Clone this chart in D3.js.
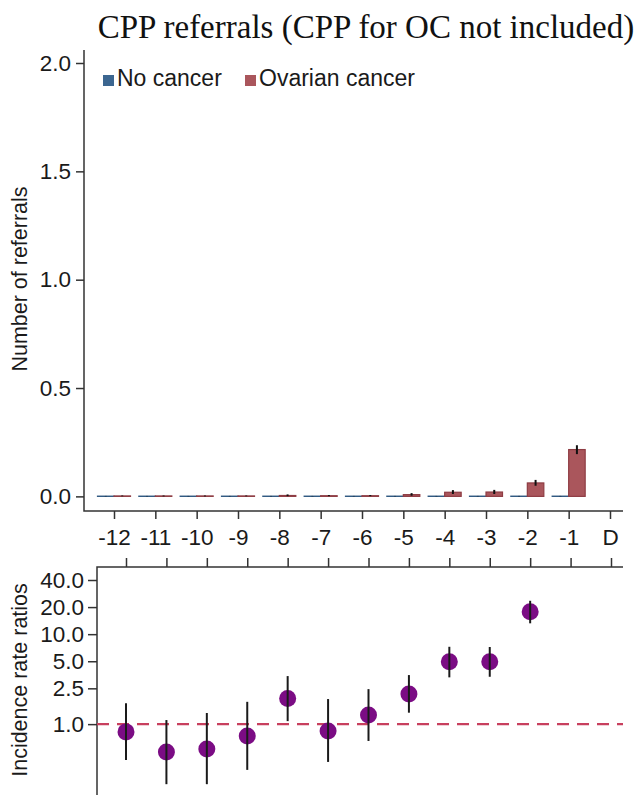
<!DOCTYPE html>
<html>
<head>
<meta charset="utf-8">
<script src="https://cdn.jsdelivr.net/npm/d3@7"></script>
<style>
	body { margin: 0; background: #fff; }
	svg { display: block; }
</style>
</head>
<body>
<div id="chart"></div>
<script>
/* CPP referrals chart: bars on top, IRR points below */

const periods = ["-12", "-11", "-10", "-9", "-8", "-7", "-6", "-5", "-4", "-3", "-2", "-1", "D"];
const groups = ["No cancer", "Ovarian cancer"];

// mean referrals per period (-12 .. -1)
const noCancer   = [0.001, 0.001, 0.001, 0.001, 0.001, 0.001, 0.001, 0.001, 0.001, 0.001, 0.001, 0.001];
const noCancerLo = [0.0005, 0.0005, 0.0005, 0.0005, 0.0005, 0.0005, 0.0005, 0.0005, 0.0005, 0.0005, 0.0005, 0.0005];
const noCancerHi = [0.002, 0.002, 0.002, 0.002, 0.002, 0.002, 0.002, 0.002, 0.002, 0.002, 0.002, 0.002];
const ovarian    = [0.002, 0.002, 0.002, 0.002, 0.004, 0.003, 0.003, 0.008, 0.019, 0.020, 0.062, 0.216];
const ovarianLo  = [0.0005, 0.0, 0.0, 0.0005, 0.001, 0.001, 0.001, 0.003, 0.011, 0.011, 0.049, 0.195];
const ovarianHi  = [0.004, 0.004, 0.004, 0.004, 0.009, 0.006, 0.006, 0.015, 0.029, 0.030, 0.076, 0.236];

// incidence rate ratios
const irr   = [0.82, 0.49, 0.53, 0.74, 1.93, 0.84, 1.26, 2.16, 4.93, 4.93, 17.7];
const irrLo = [0.40, 0.215, 0.215, 0.31, 1.08, 0.38, 0.65, 1.34, 3.31, 3.36, 13.2];
const irrHi = [1.71, 1.11, 1.33, 1.77, 3.42, 1.90, 2.45, 3.51, 7.24, 7.20, 23.5];

const topTicks = [0, 0.5, 1, 1.5, 2];
const irrTicks = [1, 2.5, 5, 10, 20, 40];

const colors = {"No cancer": "#3c6690", "Ovarian cancer": "#aa565c"};
const strokes = {"No cancer": "#2f5880", "Ovarian cancer": "#8e3c43"};
const font = "'Liberation Sans', Arial, sans-serif";
const axisColor = "#333";

const W = 640, H = 795;
const svg = d3.select("#chart").append("svg")
	.attr("width", W)
	.attr("height", H);

// title
svg.append("text")
	.attr("x", 366)
	.attr("y", 38)
	.attr("text-anchor", "middle")
	.attr("font-family", "'Liberation Serif', 'Times New Roman', serif")
	.attr("font-size", 33)
	.attr("fill", "#111")
	.text("CPP referrals (CPP for OC not included)");

/* ---------- top panel ---------- */
const box1 = {left: 84, right: 623, top: 50, bottom: 511};

const x = d3.scalePoint().domain(periods).range([114, 610]);
const xSub = d3.scaleBand().domain(groups).range([-16.5, 16.5]);
const y = d3.scaleLinear().domain([-0.0675, 2.06]).range([box1.bottom, box1.top]);

const barData = [];
ovarian.forEach((v, i) => {
	barData.push({p: periods[i], g: "No cancer", v: noCancer[i], lo: noCancerLo[i], hi: noCancerHi[i]});
	barData.push({p: periods[i], g: "Ovarian cancer", v: v, lo: ovarianLo[i], hi: ovarianHi[i]});
});

svg.append("g").selectAll("rect")
	.data(barData)
	.join("rect")
		.attr("x", d => x(d.p) + xSub(d.g))
		.attr("width", xSub.bandwidth())
		.attr("y", d => y(d.v))
		.attr("height", d => y(0) - y(d.v))
		.attr("fill", d => colors[d.g])
		.attr("stroke", d => strokes[d.g])
		.attr("stroke-width", 1.2);

svg.append("g").selectAll("line")
	.data(barData)
	.join("line")
		.attr("x1", d => x(d.p) + xSub(d.g) + xSub.bandwidth() / 2)
		.attr("x2", d => x(d.p) + xSub(d.g) + xSub.bandwidth() / 2)
		.attr("y1", d => y(d.lo))
		.attr("y2", d => y(d.hi))
		.attr("stroke", "#111")
		.attr("stroke-width", 2);

// axes
svg.append("g")
	.attr("transform", `translate(${box1.left},0)`)
	.call(d3.axisLeft(y).tickValues(topTicks).tickFormat(d3.format(".1f")).tickSize(8).tickPadding(5));
svg.append("g")
	.attr("transform", `translate(0,${box1.bottom})`)
	.call(d3.axisBottom(x).tickSize(8).tickPadding(10));

svg.append("path")
	.attr("d", `M${box1.left},${box1.top}V${box1.bottom}H${box1.right}`)
	.attr("fill", "none")
	.attr("stroke", axisColor)
	.attr("stroke-width", 1.5);

// legend
const legend = svg.append("g")
	.selectAll("g")
	.data(groups)
	.join("g")
		.attr("transform", (d, i) => `translate(${i === 0 ? 103 : 245},0)`);
legend.append("rect")
	.attr("x", 0).attr("y", 75)
	.attr("width", 11).attr("height", 11)
	.attr("fill", d => colors[d]);
legend.append("text")
	.attr("x", 14)
	.attr("y", 86)
	.attr("font-family", font)
	.attr("font-size", 23)
	.attr("fill", "#1a1a1a")
	.text(d => d);

// y title
svg.append("text")
	.attr("transform", "translate(27,279) rotate(-90)")
	.attr("text-anchor", "middle")
	.attr("font-family", font)
	.attr("font-size", 21.5)
	.attr("fill", "#1a1a1a")
	.text("Number of referrals");

/* ---------- bottom panel ---------- */
const box2 = {left: 97, right: 623, top: 567, bottom: 800};

const x2 = d3.scalePoint().domain(periods).range([126, 611]);
const y2 = d3.scaleLog().domain([0.163, 55.8]).range([795, box2.top]);

svg.append("g")
	.attr("transform", `translate(0,${box2.top})`)
	.call(d3.axisTop(x2).tickSize(9).tickFormat(""));
svg.append("g")
	.attr("transform", `translate(${box2.left},0)`)
	.call(d3.axisLeft(y2).tickValues(irrTicks).tickFormat(d3.format(".1f")).tickSize(9).tickPadding(4));

svg.append("path")
	.attr("d", `M${box2.left},${box2.bottom}V${box2.top}H${box2.right}`)
	.attr("fill", "none")
	.attr("stroke", axisColor)
	.attr("stroke-width", 1.5);

svg.append("line")
	.attr("x1", box2.left)
	.attr("x2", box2.right)
	.attr("y1", y2(1))
	.attr("y2", y2(1))
	.attr("stroke", "#c8405e")
	.attr("stroke-width", 2.2)
	.attr("stroke-dasharray", "12,8");

const irrData = irr.map((v, i) => ({p: periods[i], v: v, lo: irrLo[i], hi: irrHi[i]}));

svg.append("g").selectAll("circle")
	.data(irrData)
	.join("circle")
		.attr("cx", d => x2(d.p))
		.attr("cy", d => y2(d.v))
		.attr("r", 8.5)
		.attr("fill", "#7b0c84");

svg.append("g").selectAll("line")
	.data(irrData)
	.join("line")
		.attr("x1", d => x2(d.p))
		.attr("x2", d => x2(d.p))
		.attr("y1", d => y2(d.lo))
		.attr("y2", d => y2(d.hi))
		.attr("stroke", "#1a1a1a")
		.attr("stroke-width", 2);

svg.append("text")
	.attr("transform", "translate(27,680) rotate(-90)")
	.attr("text-anchor", "middle")
	.attr("font-family", font)
	.attr("font-size", 21.5)
	.attr("fill", "#1a1a1a")
	.text("Incidence rate ratios");

// shared axis styling
svg.selectAll(".domain").remove();
svg.selectAll(".tick line")
	.attr("stroke", axisColor)
	.attr("stroke-width", 1.5);
svg.selectAll(".tick text")
	.attr("font-family", font)
	.attr("font-size", 22.5)
	.attr("fill", "#1a1a1a");
</script>
</body>
</html>
